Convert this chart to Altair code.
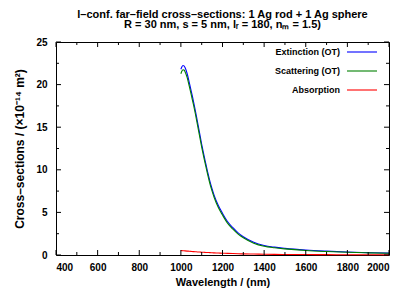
import altair as alt
import pandas as pd

wavelength = [1000, 1005, 1010, 1015, 1020, 1030, 1040, 1050, 1060, 1070, 1080, 1090,
              1100, 1110, 1120, 1130, 1140, 1150, 1160, 1180, 1200, 1225, 1250, 1275,
              1300, 1350, 1400, 1450, 1500, 1600, 1700, 1800, 1900, 2000]
extinction = [21.8, 22.1, 22.25, 22.2, 22.0, 21.3, 20.3, 19.2, 18.1, 16.9, 15.6, 14.3,
              13.0, 11.8, 10.7, 9.6, 8.6, 7.75, 7.0, 5.8, 4.9, 3.9, 3.2, 2.6,
              2.15, 1.5, 1.12, 0.92, 0.78, 0.58, 0.45, 0.35, 0.28, 0.22]
scattering = [21.28, 21.59, 21.75, 21.71, 21.52, 20.84, 19.86, 18.78, 17.70, 16.52, 15.24, 13.95,
              12.67, 11.48, 10.40, 9.31, 8.32, 7.49, 6.75, 5.57, 4.69, 3.71, 3.03, 2.45,
              2.02, 1.39, 1.03, 0.85, 0.72, 0.53, 0.41, 0.32, 0.25, 0.20]
absorption = [0.52, 0.51, 0.50, 0.49, 0.48, 0.46, 0.44, 0.42, 0.40, 0.38, 0.36, 0.35,
              0.33, 0.32, 0.30, 0.29, 0.28, 0.26, 0.25, 0.23, 0.21, 0.19, 0.17, 0.15,
              0.13, 0.11, 0.09, 0.07, 0.06, 0.05, 0.04, 0.03, 0.03, 0.02]

series_names = ["Extinction (OT)", "Scattering (OT)", "Absorption"]
series_colors = ["#0000ff", "#008000", "#ff0000"]

x_major = [400, 600, 800, 1000, 1200, 1400, 1600, 1800, 2000]
x_minor = [500, 700, 900, 1100, 1300, 1500, 1700, 1900]
y_major = [0, 5, 10, 15, 20, 25]
y_minor = [2.5, 7.5, 12.5, 17.5, 22.5]

W, H = 333, 213
FONT = "Liberation Sans"

rows = []
for name, vals in zip(series_names, [extinction, scattering, absorption]):
    for w, v in zip(wavelength, vals):
        rows.append({"wl": w, "val": v, "series": name})
df = pd.DataFrame(rows)

xscale = alt.Scale(domain=[400, 2000], nice=False, zero=False)
yscale = alt.Scale(domain=[0, 25], nice=False)
cscale = alt.Scale(domain=series_names, range=series_colors)

xaxis = alt.Axis(values=x_major, format="d", title="Wavelength / (nm)", domain=False,
                 ticks=False, grid=False, labelPadding=7, titlePadding=4,
                 labelFontSize=10, labelFontWeight="bold", titleFontSize=11,
                 titleFontWeight="bold", labelFont=FONT, titleFont=FONT,
                 labelColor="black", titleColor="black")
yaxis = alt.Axis(values=y_major, title="Cross–sections / (×10⁻¹⁴ m²)", domain=False,
                 ticks=False, grid=False, labelPadding=9, titlePadding=9,
                 labelFontSize=10, labelFontWeight="bold", titleFontSize=12,
                 titleFontWeight="bold", labelFont=FONT, titleFont=FONT,
                 labelColor="black", titleColor="black")

lines = alt.Chart(df).mark_line(strokeWidth=1.1, interpolate="monotone").encode(
    x=alt.X("wl:Q", scale=xscale, axis=xaxis),
    y=alt.Y("val:Q", scale=yscale, axis=yaxis),
    color=alt.Color("series:N", scale=cscale, legend=None),
    detail="series:N",
)

xmaj = pd.DataFrame({"t": x_major})
xmin = pd.DataFrame({"t": x_minor})
ymaj = pd.DataFrame({"t": y_major})
ymin = pd.DataFrame({"t": y_minor})


def xticks(d, length):
    b = alt.Chart(d).mark_rule(color="black", strokeWidth=1)
    xe = alt.X("t:Q", scale=xscale, axis=xaxis)
    bottom = b.encode(x=xe, y=alt.value(H), y2=alt.value(H - length))
    top = b.encode(x=xe, y=alt.value(0), y2=alt.value(length))
    return [bottom, top]


def yticks(d, length):
    b = alt.Chart(d).mark_rule(color="black", strokeWidth=1)
    ye = alt.Y("t:Q", scale=yscale, axis=yaxis)
    left = b.encode(y=ye, x=alt.value(0), x2=alt.value(length))
    right = b.encode(y=ye, x=alt.value(W), x2=alt.value(W - length))
    return [left, right]


leg = pd.DataFrame({"series": series_names, "row": [0, 1, 2]})
legend_layers = []
for i, name in enumerate(series_names):
    yy = 10 + 19 * i
    sub = alt.Chart(leg).transform_filter(alt.datum.row == i)
    legend_layers.append(
        sub.mark_text(align="right", baseline="middle", fontSize=9, fontWeight="bold",
                      font=FONT, color="black").encode(
            x=alt.value(284), y=alt.value(yy), text="series:N"))
    legend_layers.append(
        sub.mark_rule(strokeWidth=1.1).encode(
            x=alt.value(291), x2=alt.value(321), y=alt.value(yy),
            color=alt.Color("series:N", scale=cscale, legend=None)))

chart = alt.layer(
    lines,
    *xticks(xmaj, 5), *xticks(xmin, 3), *yticks(ymaj, 5), *yticks(ymin, 3),
    *legend_layers,
).properties(
    width=W, height=H,
    title=alt.TitleParams(
        ["l–conf. far–field cross–sections: 1 Ag rod + 1 Ag sphere",
         "R = 30 nm, s = 5 nm, lᵣ = 180, nₘ = 1.5)"],
        anchor="middle", fontSize=11, fontWeight="bold", font=FONT, color="black",
        lineHeight=10, offset=7),
    autosize=alt.AutoSizeParams(type="none"),
    padding={"left": 48, "top": 34, "right": 6, "bottom": 33},
).configure_view(stroke="black", strokeWidth=1)

chart.save("out.html", embed_options={"renderer": "svg", "actions": False})
